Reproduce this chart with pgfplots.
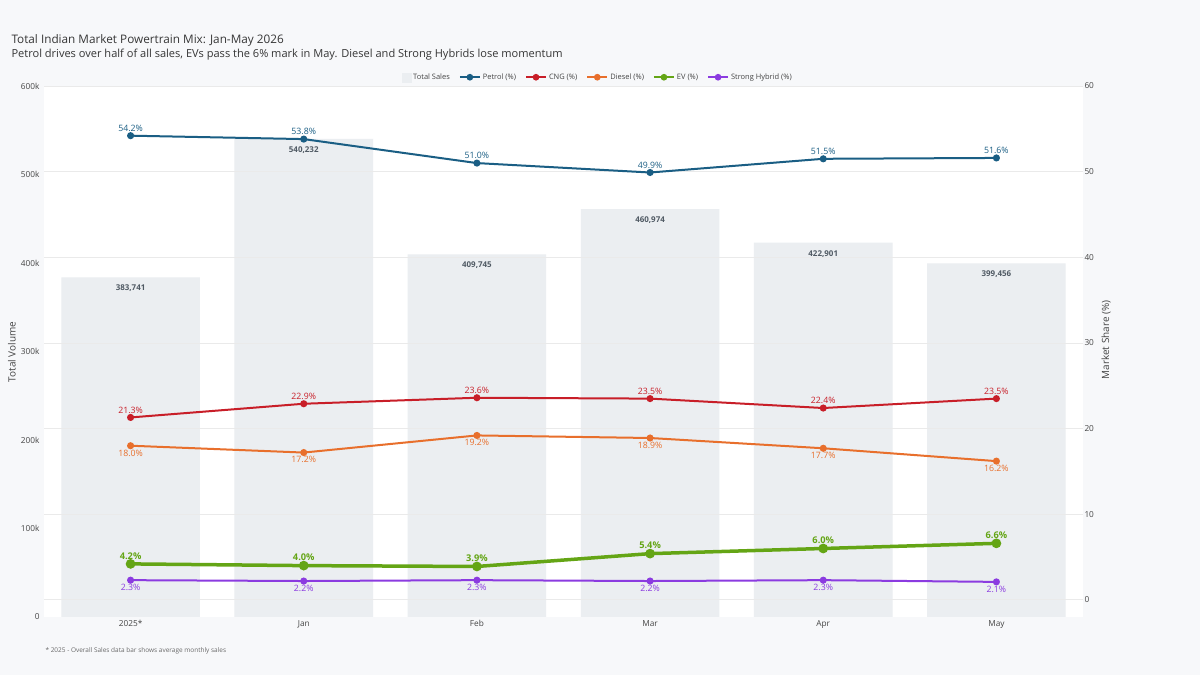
\documentclass[border=0pt]{standalone}
\usepackage{pgfplots}
\pgfplotsset{compat=1.18}
\usepackage{fontspec}
\setmainfont{Open Sans}
\definecolor{bgc}{HTML}{F7F8FA}
\definecolor{barc}{HTML}{EBEEF1}
\definecolor{petrol}{HTML}{1A5E84}
\definecolor{cng}{HTML}{C81E28}
\definecolor{diesel}{HTML}{E86F2C}
\definecolor{ev}{HTML}{64A515}
\definecolor{hybrid}{HTML}{8B3BE0}
\definecolor{txt}{HTML}{444444}
\definecolor{grd}{HTML}{EAEAEA}
\definecolor{barlab}{HTML}{505A64}
\pgfplotsset{
  pct/.style={
    nodes near coords={\pgfmathprintnumber[fixed,fixed zerofill,precision=1,assume math mode=true]{\pgfplotspointmeta}\%},
    every node near coord/.append style={font=\fontsize{8.8}{10}\selectfont, text=#1, inner sep=1bp},
  },
  above lab/.style={every node near coord/.append style={anchor=south, yshift=2bp}},
  below lab/.style={every node near coord/.append style={anchor=north, yshift=-2bp}},
}
\begin{document}
\begin{tikzpicture}
\fill[bgc] (0bp,0bp) rectangle (1200bp,675bp);
\begin{axis}[
  at={(44bp,58bp)}, anchor=south west,
  width=1039bp, height=531bp, scale only axis,
  xmin=-0.5, xmax=5.5, ymin=0, ymax=600000,
  axis line style={draw=none},
  axis background/.style={fill=white},
  tick style={draw=none},
  xtick={0,1,2,3,4,5},
  xticklabels={2025*,Jan,Feb,Mar,Apr,May},
  ytick={0,100000,200000,300000,400000,500000,600000},
  yticklabels={0,100k,200k,300k,400k,500k,600k},
  scaled y ticks=false,
  ticklabel style={font=\fontsize{8.3}{9}\selectfont, text=txt},
  yticklabel style={xshift=-1bp},
  /pgf/number format/assume math mode=true,
]
\addplot[ybar, bar width=0.8, fill=barc, draw=none,
  nodes near coords={\pgfmathprintnumber[fixed,precision=0,1000 sep={,},assume math mode=true]{\pgfplotspointmeta}},
  nodes near coords align={below},
  every node near coord/.append style={font=\bfseries\fontsize{8}{9}\selectfont, text=barlab, yshift=-4bp},
] coordinates {(0,383741) (1,540232) (2,409745) (3,460974) (4,422901) (5,399456)};
\end{axis}
\begin{axis}[
  at={(44bp,58bp)}, anchor=south west,
  width=1039bp, height=531bp, scale only axis,
  xmin=-0.5, xmax=5.5, ymin=-2, ymax=60,
  axis y line*=right,
  axis line style={draw=none},
  hide x axis,
  tick style={draw=none},
  ytick={0,10,20,30,40,50,60},
  ymajorgrids, grid style={grd, line width=0.8bp},
  ticklabel style={font=\fontsize{8.3}{9}\selectfont, text=txt},
  yticklabel style={xshift=-2bp},
  /pgf/number format/assume math mode=true,
  legend style={at={(0.533,1)}, anchor=south, yshift=1bp, draw=none, fill=none,
    font=\fontsize{7.5}{9}\selectfont, text=txt,
    /tikz/every even column/.append style={column sep=7bp}},
  legend columns=-1,
  legend image code/.code={\draw[#1, line width=2bp] (0bp,0bp) -- (20bp,0bp); \draw[#1, line width=2bp, mark size=2.3bp, mark repeat=1] plot coordinates {(10bp,0bp)};},
  clip=false,
]
\addlegendimage{legend image code/.code={\fill[barc] (2bp,-4.5bp) rectangle (11bp,4.5bp);}}
\addlegendentry{Total Sales}
\addplot[petrol, line width=2bp, mark=*, mark size=2.5bp, pct=petrol, above lab]
  coordinates {(0,54.2) (1,53.8) (2,51.0) (3,49.9) (4,51.5) (5,51.6)};
\addlegendentry{Petrol (\%)}
\addplot[cng, line width=2bp, mark=*, mark size=2.5bp, pct=cng, above lab]
  coordinates {(0,21.3) (1,22.9) (2,23.6) (3,23.5) (4,22.4) (5,23.5)};
\addlegendentry{CNG (\%)}
\addplot[diesel, line width=2bp, mark=*, mark size=2.5bp, pct=diesel, below lab]
  coordinates {(0,18.0) (1,17.2) (2,19.2) (3,18.9) (4,17.7) (5,16.2)};
\addlegendentry{Diesel (\%)}
\addplot[ev, line width=3.5bp, mark=*, mark size=3bp, pct=ev, above lab,
  every node near coord/.append style={font=\bfseries\fontsize{9.3}{10}\selectfont}]
  coordinates {(0,4.2) (1,4.0) (2,3.9) (3,5.4) (4,6.0) (5,6.6)};
\addlegendentry{EV (\%)}
\addplot[hybrid, line width=2bp, mark=*, mark size=2.5bp, pct=hybrid, below lab]
  coordinates {(0,2.3) (1,2.2) (2,2.3) (3,2.2) (4,2.3) (5,2.1)};
\addlegendentry{Strong Hybrid (\%)}
\end{axis}
\node[anchor=west, text=txt!80!black, font=\fontsize{11.8}{14}\selectfont] at (8bp,635bp) {Total Indian Market Powertrain Mix: Jan-May 2026};
\node[anchor=west, text=txt!80!black, font=\fontsize{11.1}{13}\selectfont] at (8bp,620bp) {Petrol drives over half of all sales, EVs pass the 6\% mark in May. Diesel and Strong Hybrids lose momentum};
\node[rotate=90, text=txt, font=\fontsize{10}{12}\selectfont] at (12bp,323bp) {Total Volume};
\node[rotate=90, text=txt, font=\fontsize{10}{12}\selectfont] at (1106bp,335bp) {Market Share (\%)};
\node[anchor=west, text=txt!80, font=\fontsize{6.5}{8}\selectfont] at (42bp,24bp) {* 2025 - Overall Sales data bar shows average monthly sales};
\pgfresetboundingbox
\path[use as bounding box] (0bp,0bp) rectangle (1200bp,675bp);
\end{tikzpicture}
\end{document}
